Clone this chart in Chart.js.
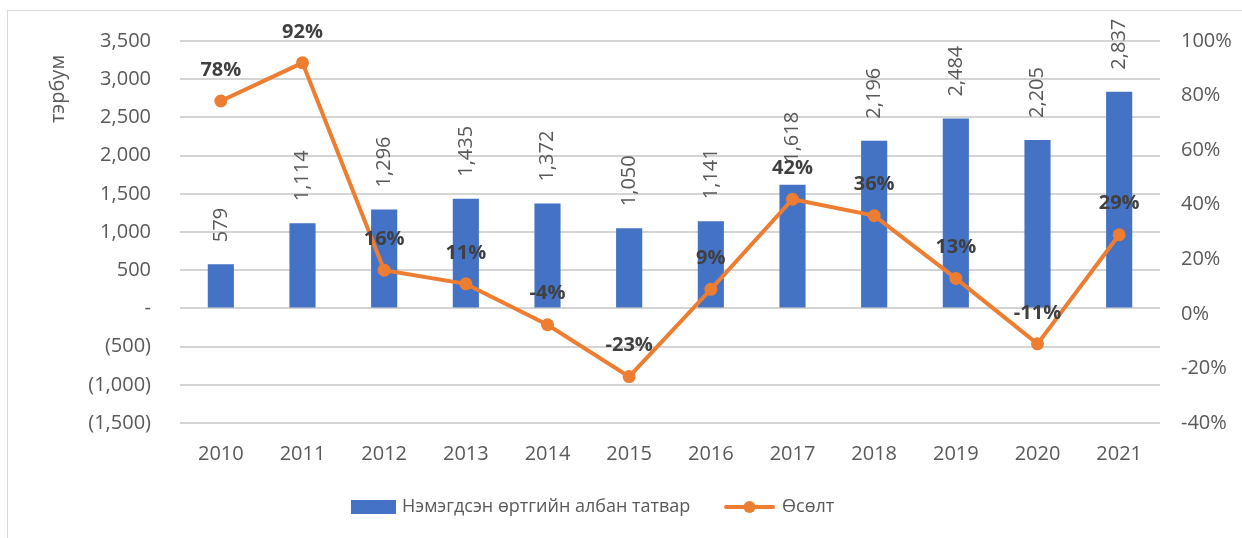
<!DOCTYPE html>
<html>
<head>
<meta charset="utf-8">
<script src="https://cdn.jsdelivr.net/npm/chart.js@4.4.1/dist/chart.umd.min.js"></script>
<style>
  html, body { margin: 0; padding: 0; background: #fff; }
  #wrap { width: 1242px; height: 538px; position: relative; }
</style>
</head>
<body>
<div id="wrap"><canvas id="myChart" width="1242" height="538"></canvas></div>
<script>
// Data
const years = ["2010", "2011", "2012", "2013", "2014", "2015", "2016", "2017", "2018", "2019", "2020", "2021"];
const vatValues = [579, 1114, 1296, 1435, 1372, 1050, 1141, 1618, 2196, 2484, 2205, 2837];
const growthValues = [78, 92, 16, 11, -4, -23, 9, 42, 36, 13, -11, 29];
const barLabel = "Нэмэгдсэн өртгийн албан татвар";
const lineLabel = "Өсөлт";
const yTitle = "тэрбум";

const FONT = "'Open Sans', 'Noto Sans', sans-serif";
const BLUE = "#4472C4";
const ORANGE = "#ED7D31";
const GREY = "#595959";

function fmtThousands(v) {
  if (v === 0) return "-";
  const s = Math.abs(v).toLocaleString("en-US");
  return v < 0 ? "(" + s + ")" : s;
}

// Draws the data labels, the axis title, the legend and the outer frame
const decorPlugin = {
  id: "decor",
  beforeDraw(chart) {
    const ctx = chart.ctx;
    ctx.save();
    ctx.strokeStyle = "#D9D9D9";
    ctx.lineWidth = 1;
    ctx.strokeRect(7.5, 10.5, 1240, 540);
    ctx.restore();
  },
  afterDatasetsDraw(chart) {
    const ctx = chart.ctx;
    ctx.save();

    // Bar values, rotated, above each bar
    const barMeta = chart.getDatasetMeta(0);
    ctx.font = "20px " + FONT;
    ctx.fillStyle = GREY;
    ctx.textAlign = "left";
    ctx.textBaseline = "middle";
    barMeta.data.forEach((bar, i) => {
      ctx.save();
      ctx.translate(bar.x, bar.y - 22);
      ctx.rotate(-Math.PI / 2);
      ctx.fillText(vatValues[i].toLocaleString("en-US"), 0, 0);
      ctx.restore();
    });

    // Growth percentages above each point
    const lineMeta = chart.getDatasetMeta(1);
    ctx.font = "bold 20px " + FONT;
    ctx.fillStyle = "#404040";
    ctx.textAlign = "center";
    lineMeta.data.forEach((pt, i) => {
      ctx.fillText(growthValues[i] + "%", pt.x, pt.y - 31);
    });

    // y axis title
    ctx.save();
    ctx.font = "20px " + FONT;
    ctx.fillStyle = GREY;
    ctx.translate(58, 89);
    ctx.rotate(-Math.PI / 2);
    ctx.fillText(yTitle, 0, 0);
    ctx.restore();

    // Legend
    const ly = 507;
    ctx.fillStyle = BLUE;
    ctx.fillRect(351, ly - 7, 45, 14);
    ctx.font = "18px " + FONT;
    ctx.fillStyle = GREY;
    ctx.textAlign = "left";
    ctx.fillText(barLabel, 402, ly);
    ctx.strokeStyle = ORANGE;
    ctx.lineWidth = 4;
    ctx.lineCap = "round";
    ctx.beginPath();
    ctx.moveTo(726, ly);
    ctx.lineTo(773, ly);
    ctx.stroke();
    ctx.fillStyle = ORANGE;
    ctx.beginPath();
    ctx.arc(749.5, ly, 6, 0, Math.PI * 2);
    ctx.fill();
    ctx.fillStyle = GREY;
    ctx.fillText(lineLabel, 782, ly);

    ctx.restore();
  },
};

const chartContext = document.getElementById("myChart").getContext("2d");

const chart = new Chart(chartContext, {
  data: {
    labels: years,
    datasets: [
      {
        type: "bar",
        label: barLabel,
        data: vatValues,
        backgroundColor: BLUE,
        yAxisID: "y",
        categoryPercentage: 1,
        barPercentage: 0.32,
        order: 2,
      },
      {
        type: "line",
        label: lineLabel,
        data: growthValues,
        borderColor: ORANGE,
        backgroundColor: ORANGE,
        borderWidth: 4,
        pointRadius: 6.5,
        pointHoverRadius: 6.5,
        pointBackgroundColor: ORANGE,
        pointBorderWidth: 0,
        tension: 0,
        yAxisID: "y1",
        order: 1,
      },
    ],
  },
  options: {
    responsive: false,
    animation: false,
    layout: {
      padding: { top: 41, bottom: 75, left: 0, right: 0 },
    },
    plugins: {
      legend: { display: false },
      tooltip: { enabled: false },
    },
    scales: {
      x: {
        grid: { display: false, drawTicks: false },
        border: { display: false },
        ticks: {
          color: GREY,
          font: { family: FONT, size: 20 },
          padding: 19,
          maxRotation: 0,
        },
        afterFit: (scale) => { scale.height = 40; },
      },
      y: {
        position: "left",
        min: -1500,
        max: 3500,
        ticks: {
          stepSize: 500,
          color: GREY,
          font: { family: FONT, size: 20 },
          padding: 29,
          callback: (v) => fmtThousands(v),
        },
        grid: { color: "#D4D4D4", lineWidth: 2, drawTicks: false },
        border: { display: false },
        afterFit: (scale) => { scale.width = 180; },
      },
      y1: {
        position: "right",
        min: -40,
        max: 100,
        ticks: {
          stepSize: 20,
          color: GREY,
          font: { family: FONT, size: 20 },
          padding: 21,
          callback: (v) => v + "%",
        },
        grid: { display: false, drawTicks: false },
        border: { display: false },
        afterFit: (scale) => { scale.width = 82; },
      },
    },
  },
  plugins: [decorPlugin],
});
</script>
</body>
</html>
